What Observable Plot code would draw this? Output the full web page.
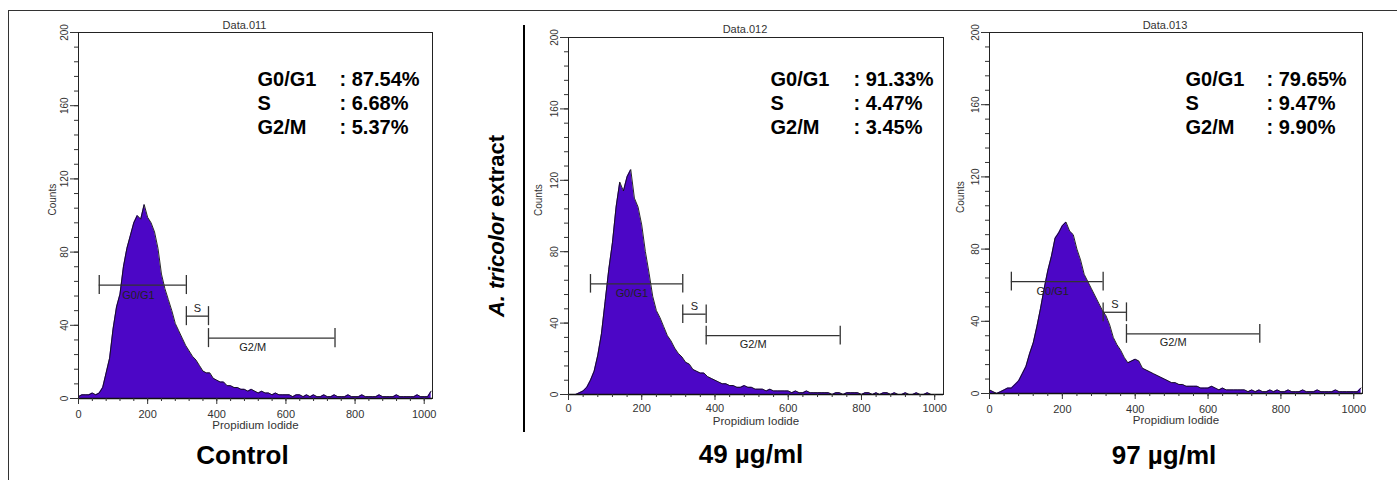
<!DOCTYPE html>
<html><head><meta charset="utf-8">
<script src="https://cdn.jsdelivr.net/npm/d3@7"></script>
<script src="https://cdn.jsdelivr.net/npm/@observablehq/plot@0.6"></script>
<style>
body{margin:0;background:#fff;font-family:"Liberation Sans",Arial,sans-serif;}
#root{position:relative;width:1397px;height:480px;overflow:hidden;background:#fff;}
.abs{position:absolute;}
</style></head><body><div id="root"></div>
<script>
// ---------- data ----------
const panelTitles = ["Data.011", "Data.012", "Data.013"];
const conditions = ["Control", "49 µg/ml", "97 µg/ml"];
const phases = ["G0/G1", "S", "G2/M"];
const pctControl = [87.54, 6.68, 5.37];
const pct49 = [91.33, 4.47, 3.45];
const pct97 = [79.65, 9.47, 9.90];
const gateStart = [60, 312, 376];
const gateEnd = [312, 376, 742];
const gateLevel = [62, 45, 33];
const yTicks = [0, 40, 80, 120, 160, 200];
const xTicks = [0, 200, 400, 600, 800, 1000];
const xLabel = "Propidium Iodide";
const yLabel = "Counts";
// channel bins 0,10,...,1020
const channels = d3.range(0, 1021, 10);
const countsControl = [
  1,2,2,2,3,2,3,6,14,22,
  38,50,57,72,82,89,96,100,98,106,
  99,96,91,82,68,60,54,48,41,37,
  33,29,26,23,21,18,15,14,14,11,
  10,9,9,7,7,6,6,5,5,4,
  5,4,3,4,3,3,2,3,2,2,
  2,2,1,2,2,1,2,1,2,1,
  1,2,1,1,2,1,1,1,2,1,
  1,1,2,1,1,1,1,2,1,1,
  1,1,2,1,1,1,1,1,2,1,
  1,1,4
];
const counts49 = [
  0,0,0,1,2,4,8,13,22,34,
  52,70,85,105,119,114,122,126,110,105,
  95,80,68,55,47,43,38,33,30,26,
  23,21,18,17,14,13,12,12,10,9,
  8,7,6,6,5,5,4,4,5,4,
  4,3,3,3,2,3,2,2,2,2,
  2,1,2,1,1,2,1,1,1,1,
  1,1,0,1,1,0,1,1,1,1,
  0,1,1,0,1,0,1,1,0,1,
  0,0,1,0,0,1,0,0,1,0,
  0,0,0
];
const counts97 = [
  2,1,0,1,2,3,3,5,7,11,
  15,22,28,37,47,58,68,76,86,89,
  93,95,90,88,80,74,66,62,58,54,
  50,46,43,38,31,27,24,20,17,18,
  19,18,14,13,12,11,10,9,8,7,
  6,6,5,5,4,4,4,4,3,3,
  3,4,3,2,3,2,2,2,2,2,
  2,1,2,1,2,1,1,2,1,2,
  1,1,2,1,1,1,2,1,1,1,
  2,1,1,1,1,2,1,1,1,1,
  1,1,3
];
const allCounts = [countsControl, counts49, counts97];
const allPct = [pctControl, pct49, pct97];

// ---------- layout (page pixels) ----------
const ML = 70, MR = 25, H = 480;
const layouts = [
  {left: 78,  top: 32, right: 432,  bottom: 398, statX: 179, colonX: 261, statY: 36, titleDy: -7,   tickPad: 6, capDx: -13, capDy: 56.7, countsDx: -26},
  {left: 568, top: 37, right: 943,  bottom: 394, statX: 202, colonX: 285, statY: 31, titleDy: -8.5, tickPad: 4, capDx: -5,  capDy: 59.7, countsDx: -30},
  {left: 989, top: 32, right: 1362, bottom: 393, statX: 196, colonX: 277, statY: 36, titleDy: -7,   tickPad: 6, capDx: -12, capDy: 61.7, countsDx: -29}
];

const root = document.getElementById("root");
const FONT = "Liberation Sans, Arial, sans-serif";
const FILL = "#4c06c6";

function addDiv(style, html) {
  const d = document.createElement("div");
  d.className = "abs";
  Object.assign(d.style, style);
  if (html) d.innerHTML = html;
  root.appendChild(d);
  return d;
}

// outer frame (top & left edges visible)
addDiv({left: "8px", top: "10px", width: "1389px", height: "0px", borderTop: "1.5px solid #333"});
addDiv({left: "8px", top: "10px", width: "0px", height: "470px", borderLeft: "1.5px solid #333"});

layouts.forEach((L, p) => {
  const data = channels.map((c, i) => ({ch: c, n: allCounts[p][i]}));
  const gates = phases.map((name, i) => ({name, x1: gateStart[i], x2: gateEnd[i], y: gateLevel[i]}));
  const W = ML + (L.right - L.left) + MR;
  const chart = Plot.plot({
    width: W, height: H,
    marginLeft: ML, marginRight: MR, marginTop: L.top, marginBottom: H - L.bottom,
    x: {domain: [0, 1024], axis: null},
    y: {domain: [0, 200], axis: null},
    style: {background: "transparent", fontFamily: FONT, color: "#222", overflow: "visible"},
    marks: [
      Plot.areaY(data, {x: "ch", y: "n", curve: "linear", fill: FILL}),
      Plot.lineY(data, {x: "ch", y: "n", curve: "linear", stroke: "#111", strokeWidth: 0.9}),
      Plot.frame({stroke: "#222", strokeWidth: 1}),
      Plot.ruleY([0], {stroke: "#111", strokeWidth: 1.6}),
      Plot.axisY({ticks: yTicks, tickSize: 8, tickRotate: -90, fontSize: 10, label: null, stroke: "#333", fill: "#333"}),
      Plot.axisY({ticks: d3.range(0, 201, 8), tickSize: 4, tickFormat: () => "", label: null, stroke: "#333"}),
      Plot.axisX({ticks: xTicks, tickSize: 6, tickPadding: L.tickPad, tickFormat: d => String(d), fontSize: 11, label: null, stroke: "#333", fill: "#333"}),
      Plot.axisX({ticks: d3.range(0, 1001, 40), tickSize: 3, tickFormat: () => "", label: null, stroke: "#333"}),
      // gates
      Plot.ruleY(gates, {x1: "x1", x2: "x2", y: "y", stroke: "#333", strokeWidth: 1.3}),
      Plot.ruleX(gates, {x: "x1", y1: d => d.y - 5.2, y2: d => d.y + 5.2, stroke: "#333", strokeWidth: 1.3}),
      Plot.ruleX(gates, {x: "x2", y1: d => d.y - 5.2, y2: d => d.y + 5.2, stroke: "#333", strokeWidth: 1.3}),
      Plot.text(gates.filter(d => d.name === "G0/G1"), {x: d => d.x1 + (d.x2 - d.x1) * 0.45, y: "y", text: "name", dy: 10, fontSize: 11, fill: "#222"}),
      Plot.text(gates.filter(d => d.name === "S"), {x: d => (d.x1 + d.x2) / 2, y: "y", text: "name", dy: -8, fontSize: 11, fill: "#222"}),
      Plot.text(gates.filter(d => d.name === "G2/M"), {x: d => d.x1 + (d.x2 - d.x1) * 0.35, y: "y", text: "name", dy: 9, fontSize: 11, fill: "#222"}),
      // stats
      Plot.text([phases.join("\n")], {frameAnchor: "top-left", dx: L.statX, dy: L.statY, lineAnchor: "top", textAnchor: "start", lineHeight: 1.2, fontSize: 20, fontWeight: "bold", fill: "#000"}),
      Plot.text([allPct[p].map(v => ": " + v.toFixed(2) + "%").join("\n")], {frameAnchor: "top-left", dx: L.colonX, dy: L.statY, lineAnchor: "top", textAnchor: "start", lineHeight: 1.2, fontSize: 20, fontWeight: "bold", fill: "#000"}),
      // titles & labels
      Plot.text([panelTitles[p]], {frameAnchor: "top", dx: -11, dy: L.titleDy, lineAnchor: "middle", fontSize: 11, fill: "#333"}),
      Plot.text([xLabel], {frameAnchor: "bottom", dy: 27, lineAnchor: "middle", fontSize: 11.5, fill: "#333"}),
      Plot.text([yLabel], {frameAnchor: "left", dx: L.countsDx, rotate: -90, lineAnchor: "middle", fontSize: 10, fill: "#333"}),
      Plot.text([conditions[p]], {frameAnchor: "bottom", dx: L.capDx, dy: L.capDy, lineAnchor: "middle", fontSize: 26, fontWeight: "bold", fill: "#000"})
    ]
  });
  const wrap = addDiv({left: (L.left - ML) + "px", top: "0px", width: W + "px", height: H + "px"});
  wrap.appendChild(chart);
});

// divider and treatment label
addDiv({left: "523px", top: "25px", width: "0px", height: "407px", borderLeft: "2px solid #000"});
addDiv({left: "497px", top: "226px", transform: "translate(-50%,-50%) rotate(-90deg)", whiteSpace: "nowrap",
  fontSize: "22px", fontWeight: "bold", color: "#000", fontFamily: FONT},
  "<i>A. tricolor</i> extract");
</script>
</body></html>
